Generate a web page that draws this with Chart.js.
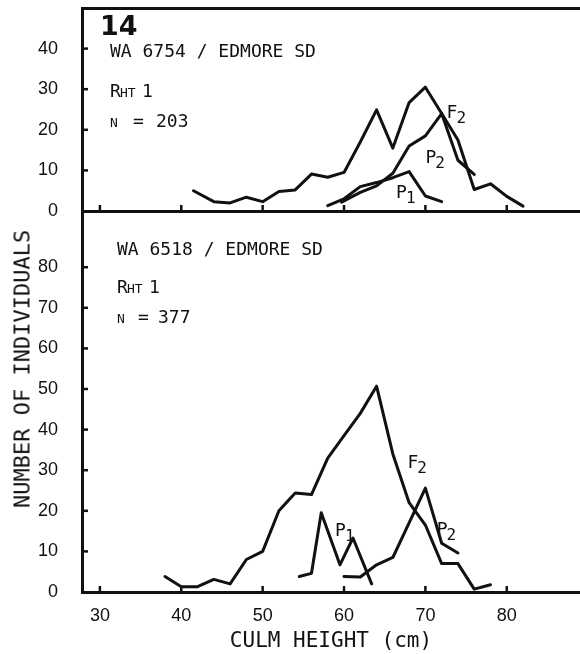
<!DOCTYPE html>
<html>
<head>
<meta charset="utf-8">
<script src="https://cdn.jsdelivr.net/npm/chart.js@4.4.1/dist/chart.umd.min.js"></script>
<style>
  html, body { margin: 0; padding: 0; background: #fff; }
  #wrap { position: relative; width: 580px; height: 654px; overflow: hidden; }
  #topBox { position: absolute; left: 0; top: 0; }
  #botBox { position: absolute; left: 0; top: 212px; }
  #yTitle {
    position: absolute; left: 22px; top: 369px;
    transform: translate(-50%, -50%) rotate(-90deg);
    font: 22px 'DejaVu Sans Mono', monospace; white-space: nowrap; color: #111;
  }
</style>
</head>
<body>
<div id="wrap">
  <div id="topBox"><canvas id="topChart" width="580" height="232"></canvas></div>
  <div id="botBox"><canvas id="bottomChart" width="580" height="442"></canvas></div>
  <div id="yTitle">NUMBER OF INDIVIDUALS</div>
</div>
<script>
// ---------- Data ----------
const xTicks = [30, 40, 50, 60, 70, 80];
const topYTicks = [0, 10, 20, 30, 40];
const bottomYTicks = [0, 10, 20, 30, 40, 50, 60, 70, 80];

// panel 14 top: WA 6754 / EDMORE SD, n = 203
const topF2X = [41.5, 44, 46, 48, 50, 52, 54, 56, 58, 60, 62, 64, 66, 68, 70, 72, 74, 76, 78, 80, 82];
const topF2Y = [5, 2.3, 2, 3.4, 2.3, 4.8, 5.2, 9.1, 8.3, 9.5, 17, 24.9, 15.5, 26.7, 30.5, 24, 17.5, 5.3, 6.7, 3.6, 1.2];
const topP1X = [58, 60, 62, 64, 66, 68, 70, 72];
const topP1Y = [1.3, 3, 6, 7, 8.2, 9.7, 3.7, 2.3];
const topP2X = [59.7, 62, 64, 66, 68, 70, 72, 74, 76];
const topP2Y = [2.2, 4.6, 6.2, 9.3, 16, 18.5, 24, 12.5, 9];

// panel 14 bottom: WA 6518 / EDMORE SD, n = 377
const botF2X = [38, 40, 42, 44, 46, 48, 50, 52, 54, 56, 58, 60, 62, 64, 66, 68, 70, 72, 74, 76, 78];
const botF2Y = [3.8, 1.3, 1.3, 3.1, 2, 8, 10, 20, 24.4, 24, 33, 38.5, 44, 50.7, 34, 22, 16.5, 7, 7, 0.7, 1.8];
const botP1X = [54.5, 56, 57.2, 59.5, 61.1, 63.4];
const botP1Y = [3.8, 4.6, 19.5, 6.7, 13.3, 2];
const botP2X = [60, 62, 64, 66, 68, 70, 72, 74];
const botP2Y = [3.8, 3.7, 6.7, 8.5, 17, 25.6, 12, 9.6];

// ---------- Helpers ----------
const INK = '#111';
const MONO = '"DejaVu Sans Mono", monospace';
const TICK_FONT = { family: '"Liberation Sans", Arial, sans-serif', size: 18 };

function lineSet(xs, ys) {
    return {
        data: xs.map((x, i) => ({ x: x, y: ys[i] })),
        borderColor: INK,
        borderWidth: 3,
        pointRadius: 0,
        tension: 0,
        fill: false,
        borderJoinStyle: 'round',
        borderCapStyle: 'round',
    };
}

function fixTicks(values) {
    return scale => { scale.ticks = values.map(v => ({ value: v })); };
}

// no extra space around the plot area: the panels sit edge to edge
function noPad(s) {
    s.paddingTop = 0;
    s.paddingBottom = 0;
    s.paddingLeft = 0;
    s.paddingRight = 0;
}

// inward tick marks, panel text and curve labels
const paperPlugin = {
    id: 'paper',
    afterDraw(chart, args, opts) {
        const { ctx, chartArea, scales } = chart;
        ctx.save();
        ctx.strokeStyle = INK;
        ctx.fillStyle = INK;
        ctx.lineWidth = 2.5;
        xTicks.forEach(v => {
            const px = scales.x.getPixelForValue(v);
            ctx.beginPath();
            ctx.moveTo(px, chartArea.bottom);
            ctx.lineTo(px, chartArea.bottom - 6);
            ctx.stroke();
        });
        opts.yTicks.forEach(v => {
            if (v === 0) return;
            const py = scales.y.getPixelForValue(v);
            ctx.beginPath();
            ctx.moveTo(chartArea.left, py);
            ctx.lineTo(chartArea.left + 6, py);
            ctx.stroke();
        });

        ctx.textBaseline = 'alphabetic';
        ctx.textAlign = 'left';
        opts.texts.forEach(t => {
            ctx.font = t.font;
            ctx.fillText(t.text, t.x, t.y);
        });

        opts.curveLabels.forEach(l => {
            const px = scales.x.getPixelForValue(l.x);
            const py = scales.y.getPixelForValue(l.y);
            ctx.font = '18px ' + MONO;
            ctx.fillText(l.main, px, py);
            const w = ctx.measureText(l.main).width;
            ctx.font = '16px ' + MONO;
            ctx.fillText(l.sub, px + w - 1, py + 5);
        });
        ctx.restore();
    },
};

function panelOptions(cfg) {
    return {
        responsive: false,
        animation: false,
        layout: { autoPadding: false, padding: { top: cfg.padTop, left: 0, right: 0, bottom: 0 } },
        plugins: {
            legend: { display: false },
            tooltip: { enabled: false },
            paper: { yTicks: cfg.yTicks, texts: cfg.texts, curveLabels: cfg.curveLabels },
        },
        scales: cfg.scales,
    };
}

function baseX(extra, height) {
    return Object.assign({
        type: 'linear',
        min: 27.8,
        max: 89,
        grid: { display: false, drawTicks: false },
        border: { display: true, color: INK, width: 3 },
        afterBuildTicks: fixTicks(xTicks),
        afterFit: s => { s.height = height; noPad(s); },
    }, extra);
}

function baseY(max, ticks) {
    return {
        type: 'linear',
        min: 0,
        max: max,
        grid: { display: false, drawTicks: false },
        border: { display: true, color: INK, width: 3 },
        afterBuildTicks: fixTicks(ticks),
        afterFit: s => { s.width = 82; noPad(s); },
        ticks: { color: INK, padding: 24, font: TICK_FONT },
    };
}

// ---------- Top panel ----------
new Chart(document.getElementById('topChart'), {
    type: 'line',
    data: { datasets: [lineSet(topF2X, topF2Y), lineSet(topP1X, topP1Y), lineSet(topP2X, topP2Y)] },
    options: panelOptions({
        padTop: 8,
        yTicks: topYTicks,
        texts: [
            { text: '14', x: 100, y: 35, font: 'bold 27px "DejaVu Sans", sans-serif' },
            { text: 'WA 6754 / EDMORE SD', x: 110, y: 57, font: '18px ' + MONO },
            { text: 'R', x: 110, y: 97, font: '18px ' + MONO },
            { text: 'HT', x: 120, y: 97, font: '13px ' + MONO },
            { text: '1', x: 142, y: 97, font: '18px ' + MONO },
            { text: 'N', x: 110, y: 127, font: '13px ' + MONO },
            { text: '=', x: 133, y: 127, font: '18px ' + MONO },
            { text: '203', x: 156, y: 127, font: '18px ' + MONO },
        ],
        curveLabels: [
            { main: 'F', sub: '2', x: 72.6, y: 23 },
            { main: 'P', sub: '2', x: 70.0, y: 11.9 },
            { main: 'P', sub: '1', x: 66.4, y: 3.2 },
        ],
        scales: {
            x: baseX({ ticks: { display: false } }, 21),
            x2: baseX({ position: 'top', ticks: { display: false } }, 0),
            y: baseY(50, topYTicks),
        },
    }),
    plugins: [paperPlugin],
});

// ---------- Bottom panel ----------
new Chart(document.getElementById('bottomChart'), {
    type: 'line',
    data: { datasets: [lineSet(botF2X, botF2Y), lineSet(botP1X, botP1Y), lineSet(botP2X, botP2Y)] },
    options: panelOptions({
        padTop: 0,
        yTicks: bottomYTicks,
        texts: [
            { text: 'WA 6518 / EDMORE SD', x: 117, y: 43, font: '18px ' + MONO },
            { text: 'R', x: 117, y: 81, font: '18px ' + MONO },
            { text: 'HT', x: 127, y: 81, font: '13px ' + MONO },
            { text: '1', x: 149, y: 81, font: '18px ' + MONO },
            { text: 'N', x: 117, y: 111, font: '13px ' + MONO },
            { text: '=', x: 138, y: 111, font: '18px ' + MONO },
            { text: '377', x: 158, y: 111, font: '18px ' + MONO },
        ],
        curveLabels: [
            { main: 'F', sub: '2', x: 67.8, y: 30.6 },
            { main: 'P', sub: '1', x: 58.9, y: 13.8 },
            { main: 'P', sub: '2', x: 71.4, y: 14.1 },
        ],
        scales: {
            x: baseX({
                ticks: { color: INK, padding: 13, font: TICK_FONT },
                title: {
                    display: true,
                    text: 'CULM HEIGHT (cm)',
                    color: INK,
                    padding: 0,
                    font: { family: MONO, size: 21 },
                },
            }, 62),
            y: baseY(93.6, bottomYTicks),
        },
    }),
    plugins: [paperPlugin],
});
</script>
</body>
</html>
